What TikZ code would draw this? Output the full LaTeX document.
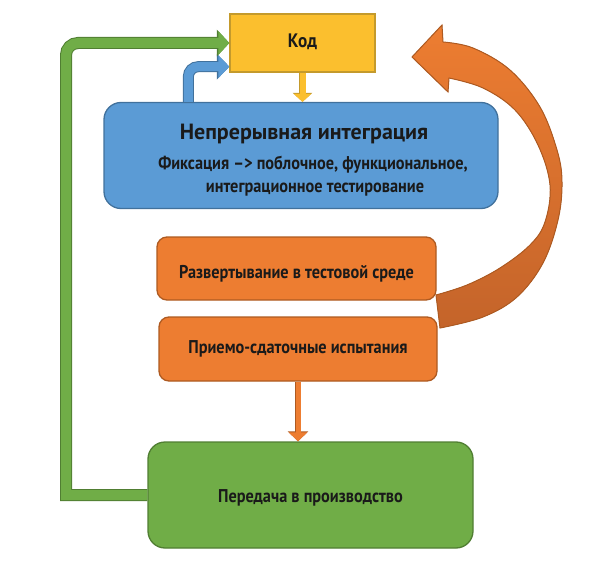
\documentclass[tikz,border=0pt]{standalone}
\usepackage{fontspec}
\setmainfont{PT Sans}
\newfontfamily\narrowfont{PT Sans}[FakeStretch=0.88]
\usetikzlibrary{arrows.meta}
\definecolor{kodfill}{HTML}{FBBF2E}
\definecolor{kodline}{HTML}{C49A2C}
\definecolor{cifill}{HTML}{5B9BD5}
\definecolor{ciline}{HTML}{41719C}
\definecolor{orfill}{HTML}{ED7D31}
\definecolor{ordark}{HTML}{C4642A}
\definecolor{orline}{HTML}{AE5A21}
\definecolor{grfill}{HTML}{70AD47}
\definecolor{grline}{HTML}{507E32}
\definecolor{ink}{HTML}{1A1A1A}
\tikzset{
  box/.style={draw, line width=1.3pt, text=ink, text height=12pt, text depth=3pt,
    font=\narrowfont\bfseries\fontsize{18.5}{22}\selectfont},
  lbl/.style={text=ink, anchor=base, inner sep=0pt},
  grarrow/.style={draw=grfill, line width=10pt, -{Triangle[length=11pt,width=23pt]},
    preaction={draw=grline, line width=12pt, -{Triangle[length=12.5pt,width=26pt]}}},
  ciarrow/.style={draw=cifill, line width=9pt, -{Triangle[length=11pt,width=22pt]},
    preaction={draw=ciline, line width=11pt, -{Triangle[length=12.5pt,width=25pt]}}},
  kodarrow/.style={draw=kodfill, line width=6pt, -{Triangle[length=8pt,width=17pt]},
    preaction={draw=kodline, line width=7.5pt, -{Triangle[length=9pt,width=19pt]}}},
  orarrow/.style={draw=orfill, line width=5pt, -{Triangle[length=9pt,width=18pt]},
    preaction={draw=orline, line width=6.5pt, -{Triangle[length=10pt,width=20pt]}}}
}
\begin{document}
\begin{tikzpicture}[x=1pt,y=-1pt]
  \useasboundingbox (0,0) rectangle (600,575);
  % big curved arrow back to the code
  \filldraw[draw=orline, line width=1pt, top color=orfill, bottom color=ordark]
    plot[smooth, tension=0.6] coordinates {(440,328) (483,317) (517,297) (543,263) (558,220)
      (562,182) (557,150) (540,107) (510,70) (473,48) (443,42)}
    -- (442,25) -- (412,57) -- (448,92)
    -- plot[smooth, tension=0.6] coordinates {(449,78) (483,88) (515,110) (538,145) (550,185)
      (545,222) (530,245) (500,268) (467,285) (436,295)}
    -- cycle;
  \node[box, fill=kodfill, draw=kodline, minimum width=145pt, minimum height=58pt,
    font=\narrowfont\bfseries\fontsize{19.5}{22}\selectfont] (kod) at (302.5,43) {Код};
  \node[box, fill=cifill, draw=ciline, rounded corners=17pt, minimum width=394pt,
    minimum height=106pt] (ci) at (301,155.5) {};
  \node[lbl, font=\bfseries\fontsize{22}{26}\selectfont] (cititle) at (304,140) {Непрерывная интеграция};
  \node[lbl, font=\narrowfont\bfseries\fontsize{18.5}{22}\selectfont] (cione) at (313,170)
    {Фиксация –> поблочное, функциональное,};
  \node[lbl, font=\narrowfont\bfseries\fontsize{18.5}{22}\selectfont] (citwo) at (315,193)
    {интеграционное тестирование};
  \node[box, fill=orfill, draw=orline, rounded corners=10pt, minimum width=279pt,
    minimum height=63pt, text height=22pt] (deploy) at (296.5,268.5) {Развертывание в тестовой среде};
  \node[box, fill=orfill, draw=orline, rounded corners=10pt, minimum width=278pt,
    minimum height=64pt] (accept) at (298,349) {Приемо-сдаточные испытания};
  \node[box, fill=grfill, draw=grline, rounded corners=17pt, minimum width=325pt,
    minimum height=106pt, text height=17pt] (prod) at (310.5,495) {Передача в производство};
  % connectors
  \draw[kodarrow] (kod.south) -- (kod.south |- ci.north);
  \draw[ciarrow, rounded corners=10pt] ([xshift=85pt]ci.north west) |- ([yshift=6pt]kod.south west);
  \draw[orarrow] (accept.south) -- (accept.south |- prod.north);
  \draw[grarrow] (prod.west) -- (prod.west -| 66,0) [rounded corners=12pt] |- (kod.west);
\end{tikzpicture}
\end{document}
